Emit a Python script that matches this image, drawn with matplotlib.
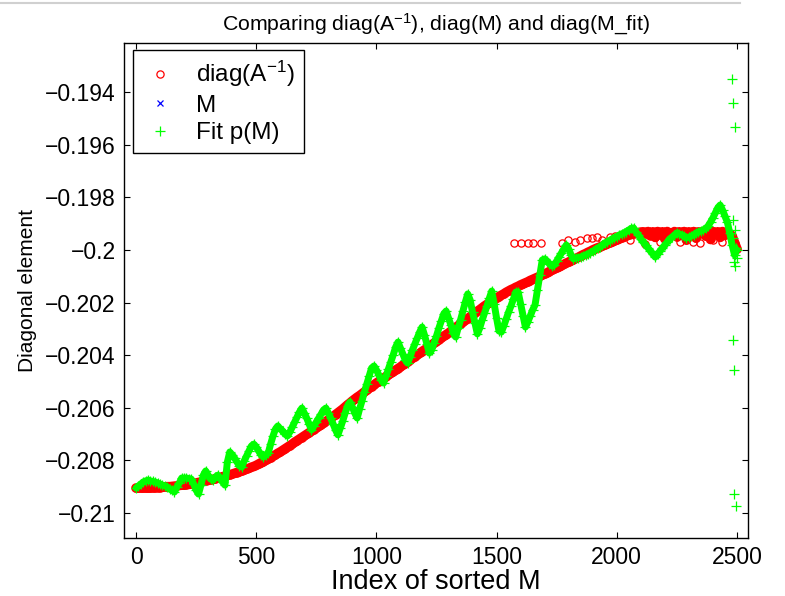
import numpy as np
import matplotlib
matplotlib.use("Agg")
import matplotlib.pyplot as plt
from matplotlib.lines import Line2D

plt.rcParams['font.family'] = ['Liberation Sans', 'DejaVu Sans']
plt.rcParams['mathtext.default'] = 'regular'

# ---------------- data ----------------
STEP = 10  # index spacing of the sampled values below

# diag(A^-1), sampled every 10 indices of sorted M (0 .. 2500)
diag_ainv = [
    -0.20905, -0.20905, -0.20905, -0.20905, -0.20905, -0.20905, -0.20905, -0.20904, -0.20904, -0.20903,
    -0.20903, -0.20902, -0.20901, -0.20900, -0.20900, -0.20899, -0.20898, -0.20897, -0.20895, -0.20894,
    -0.20894, -0.20892, -0.20891, -0.20889, -0.20888, -0.20886, -0.20884, -0.20882, -0.20880, -0.20878,
    -0.20876, -0.20874, -0.20872, -0.20870, -0.20867, -0.20865, -0.20862, -0.20860, -0.20857, -0.20855,
    -0.20852, -0.20849, -0.20846, -0.20843, -0.20840, -0.20837, -0.20833, -0.20830, -0.20826, -0.20823,
    -0.20819, -0.20814, -0.20809, -0.20805, -0.20800, -0.20795, -0.20790, -0.20784, -0.20779, -0.20773,
    -0.20768, -0.20762, -0.20756, -0.20750, -0.20744, -0.20738, -0.20731, -0.20725, -0.20719, -0.20713,
    -0.20707, -0.20701, -0.20695, -0.20689, -0.20683, -0.20677, -0.20671, -0.20665, -0.20658, -0.20652,
    -0.20646, -0.20639, -0.20633, -0.20626, -0.20619, -0.20612, -0.20605, -0.20597, -0.20589, -0.20582,
    -0.20574, -0.20567, -0.20560, -0.20554, -0.20547, -0.20540, -0.20533, -0.20526, -0.20519, -0.20513,
    -0.20506, -0.20500, -0.20494, -0.20488, -0.20481, -0.20475, -0.20469, -0.20463, -0.20457, -0.20451,
    -0.20445, -0.20438, -0.20432, -0.20425, -0.20419, -0.20412, -0.20406, -0.20399, -0.20393, -0.20386,
    -0.20380, -0.20374, -0.20367, -0.20361, -0.20354, -0.20348, -0.20341, -0.20335, -0.20328, -0.20322,
    -0.20316, -0.20309, -0.20302, -0.20295, -0.20288, -0.20281, -0.20274, -0.20268, -0.20261, -0.20254,
    -0.20247, -0.20240, -0.20233, -0.20227, -0.20220, -0.20213, -0.20207, -0.20201, -0.20195, -0.20189,
    -0.20183, -0.20177, -0.20172, -0.20167, -0.20161, -0.20156, -0.20151, -0.20147, -0.20142, -0.20138,
    -0.20133, -0.20129, -0.20125, -0.20121, -0.20116, -0.20112, -0.20108, -0.20104, -0.20100, -0.20095,
    -0.20091, -0.20087, -0.20082, -0.20077, -0.20073, -0.20068, -0.20064, -0.20059, -0.20055, -0.20050,
    -0.20046, -0.20041, -0.20037, -0.20032, -0.20028, -0.20023, -0.20018, -0.20014, -0.20009, -0.20005,
    -0.20000, -0.19996, -0.19992, -0.19989, -0.19985, -0.19981, -0.19977, -0.19973, -0.19970, -0.19966,
    -0.19962, -0.19958, -0.19954, -0.19951, -0.19947, -0.19943, -0.19941, -0.19938, -0.19936, -0.19934,
    -0.19932, -0.19931, -0.19938, -0.19930, -0.19945, -0.19931, -0.19952, -0.19930, -0.19940, -0.19931,
    -0.19958, -0.19930, -0.19936, -0.19944, -0.19930, -0.19950, -0.19931, -0.19939, -0.19930, -0.19962,
    -0.19931, -0.19942, -0.19930, -0.19955, -0.19931, -0.19937, -0.19930, -0.19947, -0.19931, -0.19960,
    -0.19930, -0.19940, -0.19931, -0.19952, -0.19930, -0.19944, -0.19932, -0.19938, -0.19947, -0.19973,
    -0.19996,
]

# isolated diag(A^-1) circles off the main band: (index, value)
ainv_extra_idx = [1572, 1601, 1631, 1651, 1685, 1772, 1797, 1826, 1847, 1876, 1897, 1918, 1938,
                  1972, 1992, 2026, 2055, 2117, 2180, 2263, 2317, 2346, 2400, 2438]
ainv_extra_val = [-0.19973, -0.19973, -0.19973, -0.19973, -0.19973, -0.19973, -0.19962, -0.19970,
                  -0.19962, -0.19954, -0.19954, -0.19951, -0.19962, -0.19951, -0.19947, -0.19943,
                  -0.19962, -0.19977, -0.19970, -0.19970, -0.19970, -0.19973, -0.19962, -0.19970]

# M: its values lie outside the plotted range (nothing visible)
m_idx = []
m_val = []

# Fit p(M), sampled every 10 indices (0 .. 2500)
fit_pm = [
    -0.20905, -0.20897, -0.20890, -0.20882, -0.20878, -0.20875, -0.20878, -0.20880, -0.20882, -0.20886,
    -0.20890, -0.20894, -0.20897, -0.20901, -0.20909, -0.20914, -0.20920, -0.20901, -0.20886, -0.20867,
    -0.20867, -0.20867, -0.20869, -0.20871, -0.20890, -0.20913, -0.20928, -0.20894, -0.20856, -0.20840,
    -0.20856, -0.20871, -0.20875, -0.20863, -0.20856, -0.20867, -0.20882, -0.20894, -0.20806, -0.20768,
    -0.20779, -0.20791, -0.20806, -0.20821, -0.20825, -0.20802, -0.20783, -0.20764, -0.20745, -0.20738,
    -0.20749, -0.20764, -0.20779, -0.20787, -0.20779, -0.20772, -0.20738, -0.20707, -0.20681, -0.20669,
    -0.20681, -0.20688, -0.20700, -0.20707, -0.20692, -0.20673, -0.20654, -0.20635, -0.20616, -0.20601,
    -0.20620, -0.20639, -0.20662, -0.20684, -0.20669, -0.20654, -0.20639, -0.20624, -0.20608, -0.20601,
    -0.20620, -0.20639, -0.20662, -0.20684, -0.20703, -0.20677, -0.20650, -0.20620, -0.20593, -0.20578,
    -0.20597, -0.20620, -0.20639, -0.20605, -0.20574, -0.20540, -0.20510, -0.20479, -0.20449, -0.20441,
    -0.20456, -0.20475, -0.20494, -0.20506, -0.20479, -0.20452, -0.20426, -0.20399, -0.20369, -0.20350,
    -0.20373, -0.20395, -0.20418, -0.20430, -0.20407, -0.20380, -0.20357, -0.20335, -0.20312, -0.20293,
    -0.20323, -0.20357, -0.20392, -0.20380, -0.20354, -0.20327, -0.20297, -0.20270, -0.20243, -0.20232,
    -0.20259, -0.20285, -0.20316, -0.20331, -0.20297, -0.20266, -0.20232, -0.20198, -0.20167, -0.20190,
    -0.20236, -0.20278, -0.20319, -0.20297, -0.20266, -0.20240, -0.20213, -0.20183, -0.20156, -0.20205,
    -0.20259, -0.20308, -0.20312, -0.20289, -0.20262, -0.20236, -0.20213, -0.20186, -0.20160, -0.20160,
    -0.20205, -0.20251, -0.20293, -0.20274, -0.20251, -0.20228, -0.20209, -0.20152, -0.20095, -0.20038,
    -0.20034, -0.20042, -0.20053, -0.20061, -0.20057, -0.20042, -0.20027, -0.20011, -0.19996, -0.19981,
    -0.19996, -0.20019, -0.20034, -0.20030, -0.20029, -0.20027, -0.20023, -0.20019, -0.20015, -0.20011,
    -0.20004, -0.20000, -0.19992, -0.19989, -0.19981, -0.19973, -0.19970, -0.19964, -0.19958, -0.19954,
    -0.19949, -0.19943, -0.19939, -0.19935, -0.19930, -0.19924, -0.19918, -0.19916, -0.19932, -0.19943,
    -0.19958, -0.19970, -0.19981, -0.19992, -0.20004, -0.20015, -0.20027, -0.20015, -0.20004, -0.19992,
    -0.19981, -0.19970, -0.19958, -0.19951, -0.19943, -0.19935, -0.19939, -0.19943, -0.19947, -0.19954,
    -0.19951, -0.19947, -0.19943, -0.19935, -0.19932, -0.19928, -0.19924, -0.19918, -0.19909, -0.19894,
    -0.19878, -0.19859, -0.19840, -0.19829, -0.19848, -0.19871, -0.19894, -0.19935, -0.19981, -0.20019,
    -0.20000,
]

# scattered Fit p(M) points at the right end: (index, value)
fit_extra_idx = [2483, 2492, 2483, 2496, 2500, 2488, 2492, 2479, 2483, 2492, 2483, 2488, 2488, 2496]
fit_extra_val = [-0.19886, -0.19924, -0.19954, -0.19992, -0.20030, -0.20046, -0.20061,
                 -0.19350, -0.19441, -0.19532, -0.20342, -0.20456, -0.20928, -0.20973]

xticks = [0, 500, 1000, 1500, 2000, 2500]
yticks = [-0.21, -0.208, -0.206, -0.204, -0.202, -0.2, -0.198, -0.196, -0.194]
ytick_labels = ['\u22120.21', '\u22120.208', '\u22120.206', '\u22120.204', '\u22120.202',
                '\u22120.2', '\u22120.198', '\u22120.196', '\u22120.194']

RED = '#ff0000'
GREEN = '#00ff00'
BLUE = '#0000ff'

# ---------------- figure ----------------
W, H = 785, 596
fig = plt.figure(figsize=(W / 100, H / 100), dpi=100)
ax = fig.add_axes([124 / W, 1 - 538 / H, (748 - 124) / W, (538 - 43) / H])

ainv_idx = np.arange(len(diag_ainv)) * STEP
fit_idx = np.arange(len(fit_pm)) * STEP

# densely overplotted circles form a solid band: draw that band from the same values
ax.plot(ainv_idx, diag_ainv, color=RED, lw=7.0, solid_capstyle='round',
        solid_joinstyle='round', zorder=1)
ax.plot(np.concatenate([ainv_idx, ainv_extra_idx]),
        np.concatenate([diag_ainv, ainv_extra_val]),
        linestyle='none', marker='o', markersize=5.2, markerfacecolor='none',
        markeredgecolor=RED, markeredgewidth=0.9, label='diag(A$^{-1}$)', zorder=2)
ax.plot(m_idx, m_val, linestyle='none', marker='x', markersize=4.5,
        markeredgecolor=BLUE, markeredgewidth=0.9, label='M', zorder=2)
ax.plot(fit_idx, fit_pm, color=GREEN, lw=5.0, solid_capstyle='round',
        solid_joinstyle='round', zorder=3)
ax.plot(np.concatenate([fit_idx, fit_extra_idx]),
        np.concatenate([fit_pm, fit_extra_val]),
        linestyle='none', marker='+', markersize=6.5, markeredgecolor=GREEN,
        markeredgewidth=0.9, label='Fit p(M)', zorder=4)

ax.set_xlim(-50, 2546)
ax.set_ylim(-0.21095, -0.19213)
ax.set_xticks(xticks)
ax.set_xticklabels([str(t) for t in xticks])
ax.set_yticks(yticks)
ax.set_yticklabels(ytick_labels)
ax.tick_params(direction='in', top=True, right=True, length=4.5, width=0.8,
               labelsize=16.5, pad=6)
for s in ax.spines.values():
    s.set_linewidth(1.0)

ax.set_xlabel('Index of sorted M', fontsize=19.5, labelpad=0)
ax.set_ylabel('Diagonal element', fontsize=15, labelpad=6)
ax.set_title('Comparing diag(A$^{-1}$), diag(M) and diag(M_fit)', fontsize=15.3, pad=9)

leg = ax.legend(loc='upper left', bbox_to_anchor=(133 / W, 1 - 50 / H),
                bbox_transform=fig.transFigure, borderaxespad=0, fontsize=17.5,
                frameon=True, fancybox=False, edgecolor='black', framealpha=1,
                handlelength=1.5, handletextpad=0.7, labelspacing=0.22, borderpad=0.38,
                markerscale=1.0)
leg.get_frame().set_linewidth(1.0)

fig.add_artist(Line2D([0, 740 / W], [1 - 3 / H, 1 - 3 / H], color='#d0d0d0', lw=1.5))

fig.savefig('out.png', dpi=100)
